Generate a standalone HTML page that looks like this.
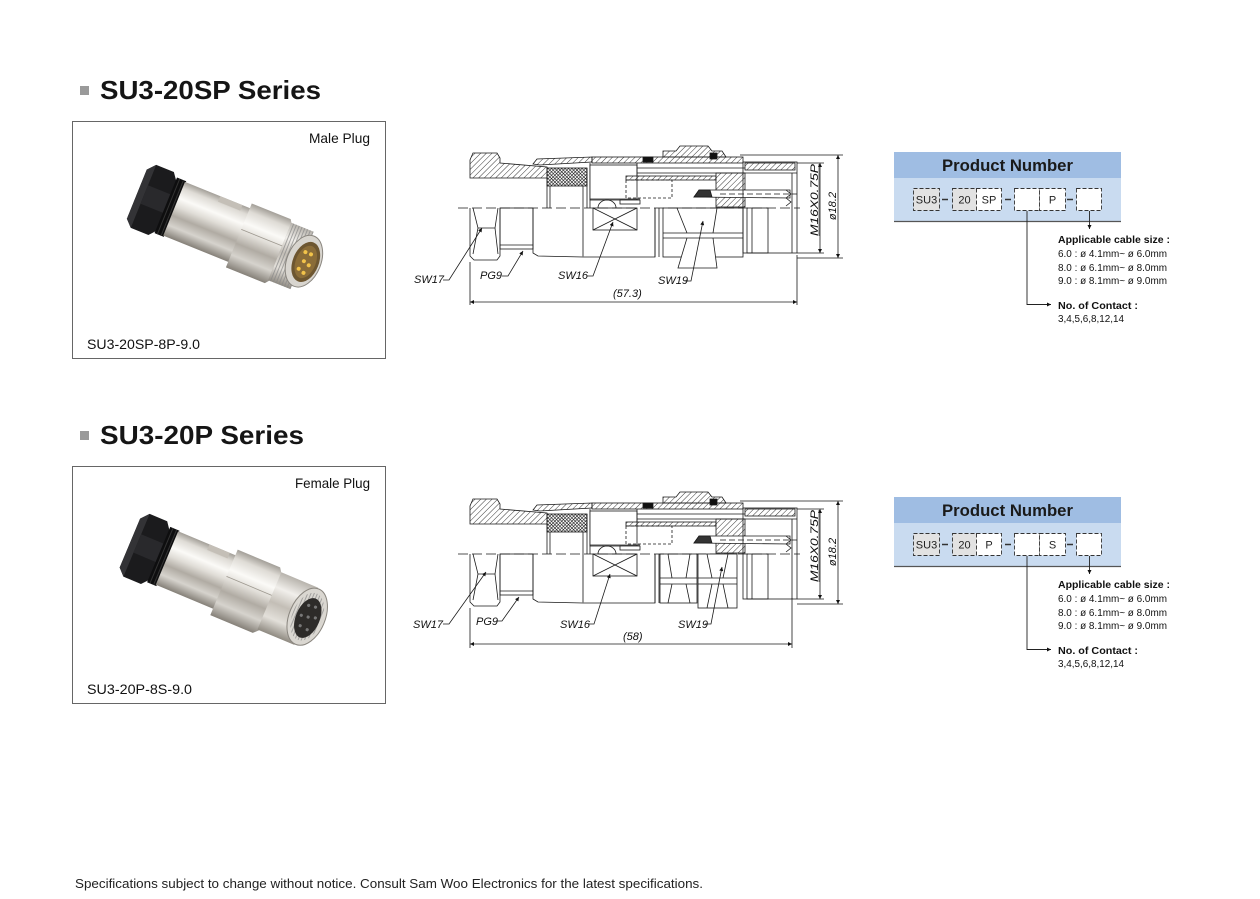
<!DOCTYPE html>
<html><head><meta charset="utf-8">
<style>
html,body{margin:0;padding:0;background:#fff;}
body{width:1260px;height:899px;overflow:hidden;position:relative;}
svg{position:absolute;left:0;top:0;}
text{font-family:"Liberation Sans",Arial,sans-serif;}
.it{font-style:italic;font-size:11px;fill:#111;}
</style></head><body>
<svg width="1260" height="899" viewBox="0 0 1260 899" xmlns="http://www.w3.org/2000/svg">
<defs>
 <pattern id="hat" width="4" height="4" patternUnits="userSpaceOnUse" patternTransform="rotate(45)"><line x1="0" y1="0" x2="0" y2="4" stroke="#222" stroke-width="0.9"/></pattern>
 <pattern id="xh" width="2.4" height="2.4" patternUnits="userSpaceOnUse" patternTransform="rotate(45)"><rect width="2.4" height="2.4" fill="#fff"/><path d="M0 0V2.4M0 0H2.4" stroke="#111" stroke-width="1.1"/></pattern>
 <marker id="ar" viewBox="0 0 10 10" refX="10" refY="5" markerUnits="userSpaceOnUse" markerWidth="7" markerHeight="4" orient="auto-start-reverse"><path d="M0,0 L10,5 L0,10 Z" fill="#111"/></marker>
 <linearGradient id="sv" x1="0" y1="0" x2="0" y2="1">
  <stop offset="0" stop-color="#a39f98"/><stop offset="0.12" stop-color="#dedbd5"/><stop offset="0.3" stop-color="#fbfaf7"/><stop offset="0.45" stop-color="#e0ddd7"/><stop offset="0.62" stop-color="#b0aba3"/><stop offset="0.8" stop-color="#d6d3cd"/><stop offset="1" stop-color="#858078"/>
 </linearGradient>
 <linearGradient id="sv2" x1="0" y1="0" x2="0" y2="1">
  <stop offset="0" stop-color="#b7b3ac"/><stop offset="0.25" stop-color="#f1efeb"/><stop offset="0.5" stop-color="#c3beb6"/><stop offset="0.75" stop-color="#e3e0da"/><stop offset="1" stop-color="#8f8a81"/>
 </linearGradient>
 <pattern id="thr" width="3" height="4" patternUnits="userSpaceOnUse"><rect width="3" height="4" fill="none"/><line x1="1.5" y1="0" x2="1.5" y2="4" stroke="#888" stroke-width="0.7"/></pattern>
</defs>

<!-- ============ TITLES ============ -->
<rect x="80" y="86" width="9" height="9" fill="#9a9a9a"/>
<text x="100" y="99" font-size="26" font-weight="bold" fill="#151515" textLength="221" lengthAdjust="spacingAndGlyphs">SU3-20SP Series</text>
<rect x="80" y="431" width="9" height="9" fill="#9a9a9a"/>
<text x="100" y="444" font-size="26" font-weight="bold" fill="#151515" textLength="204" lengthAdjust="spacingAndGlyphs">SU3-20P Series</text>

<!-- ============ PHOTO BOXES ============ -->
<rect x="72.5" y="121.5" width="313" height="237" fill="#fff" stroke="#666" stroke-width="1"/>
<text x="309" y="143" font-size="14" fill="#111" textLength="61" lengthAdjust="spacingAndGlyphs">Male Plug</text>
<text x="87" y="349" font-size="14" fill="#111" textLength="113" lengthAdjust="spacingAndGlyphs">SU3-20SP-8P-9.0</text>

<rect x="72.5" y="466.5" width="313" height="237" fill="#fff" stroke="#666" stroke-width="1"/>
<text x="295" y="488" font-size="14" fill="#111" textLength="75" lengthAdjust="spacingAndGlyphs">Female Plug</text>
<text x="87" y="694" font-size="14" fill="#111" textLength="105" lengthAdjust="spacingAndGlyphs">SU3-20P-8S-9.0</text>

<!-- Male photo -->
<g transform="translate(150,199) rotate(22)">
 <polygon points="-14,-26 -7,-34 12,-34 18,-26 18,27 12,34 -7,34 -14,27" fill="#1b1b1d"/>
 <polygon points="-14,-26 -7,-34 -7,34 -14,27" fill="#333336"/>
 <rect x="-7" y="-12" width="25" height="20" fill="#29292c"/>
 <rect x="17" y="-30" width="10" height="60" fill="#0e0e0f"/>
 <line x1="20" y1="-30" x2="20" y2="30" stroke="#333" stroke-width="1"/>
 <line x1="24" y1="-30" x2="24" y2="30" stroke="#333" stroke-width="1"/>
 <rect x="26" y="-29" width="74" height="58" fill="url(#sv)"/>
 <rect x="64" y="-29" width="24" height="6" fill="#c4bfb7"/>
 <polygon points="96,-34 138,-34 142,-28 142,30 138,35 96,35" fill="url(#sv)"/>
 <line x1="96" y1="-6" x2="142" y2="-6" stroke="#9d988f" stroke-width="0.8"/>
 <rect x="140" y="-31" width="24" height="62" fill="url(#sv2)"/>
 <rect x="140" y="-31" width="24" height="62" fill="url(#thr)"/>
 <ellipse cx="166" cy="0" rx="17" ry="27" fill="#d8d5cf" stroke="#8a867f" stroke-width="1"/>
 <ellipse cx="168" cy="0" rx="13" ry="21" fill="#6d5630"/>
 <ellipse cx="168" cy="0" rx="10" ry="17" fill="#8a6c38"/>
 <circle cx="164" cy="-9" r="2" fill="#f2c34a"/>
 <circle cx="170" cy="-9" r="2" fill="#f2c34a"/>
 <circle cx="166" cy="0" r="2" fill="#f2c34a"/>
 <circle cx="172" cy="2" r="2" fill="#f2c34a"/>
 <circle cx="164" cy="9" r="2" fill="#f2c34a"/>
 <circle cx="170" cy="11" r="2" fill="#f2c34a"/>
</g>

<!-- Female photo -->
<g transform="translate(143,548) rotate(22.7)">
 <polygon points="-14,-26 -7,-34 12,-34 18,-26 18,27 12,34 -7,34 -14,27" fill="#1b1b1d"/>
 <polygon points="-14,-26 -7,-34 -7,34 -14,27" fill="#333336"/>
 <rect x="-7" y="-12" width="25" height="20" fill="#29292c"/>
 <rect x="17" y="-30" width="10" height="60" fill="#0e0e0f"/>
 <line x1="20" y1="-30" x2="20" y2="30" stroke="#333" stroke-width="1"/>
 <line x1="24" y1="-30" x2="24" y2="30" stroke="#333" stroke-width="1"/>
 <rect x="26" y="-29" width="66" height="58" fill="url(#sv)"/>
 <rect x="60" y="-29" width="22" height="6" fill="#c4bfb7"/>
 <polygon points="88,-35 134,-35 139,-28 139,31 134,36 88,36" fill="url(#sv)"/>
 <line x1="88" y1="-6" x2="139" y2="-6" stroke="#9d988f" stroke-width="0.8"/>
 <rect x="137" y="-31" width="40" height="62" fill="url(#sv2)"/>
 <ellipse cx="178" cy="0" rx="18" ry="30" fill="#dad7d1" stroke="#8a867f" stroke-width="1"/>
 <ellipse cx="178" cy="0" rx="15" ry="25" fill="url(#thr)"/>
 <ellipse cx="179" cy="1" rx="12" ry="21" fill="#2d2b29"/>
 <circle cx="175" cy="-11" r="1.6" fill="#777"/>
 <circle cx="182" cy="-12" r="1.6" fill="#777"/>
 <circle cx="186" cy="-2" r="1.6" fill="#777"/>
 <circle cx="179" cy="0" r="1.6" fill="#777"/>
 <circle cx="172" cy="1" r="1.6" fill="#777"/>
 <circle cx="175" cy="11" r="1.6" fill="#777"/>
 <circle cx="183" cy="12" r="1.6" fill="#777"/>
</g>

<!-- ============ TECH DRAWING CORE ============ -->
<g id="core" fill="none" stroke="#1a1a1a" stroke-width="0.8">
 <line x1="458" y1="208" x2="800" y2="208" stroke-dasharray="10 4"/>
 <path d="M470,178 V160 L473,153 H497 L500,158 V163 L547,167 V178 Z" fill="url(#hat)"/>
 <path d="M533,164 L537,159 L592,157 V162 L540,165 Z" fill="url(#hat)"/>
 <rect x="592" y="157" width="151" height="6" fill="url(#hat)"/>
 <polygon points="663,157 663,151 676,151 680,146 708,146 712,151 722,151 726,157" fill="url(#hat)"/>
 <rect x="643" y="157" width="10" height="5" fill="#111"/>
 <rect x="710" y="153" width="7" height="6" fill="#111"/>
 <rect x="547" y="168" width="40" height="18" fill="url(#xh)"/>
 <path d="M547,167 V208 M550,186 V208 M583,186 V208 M587,168 V208 M590,163 V208"/>
 <rect x="590" y="165" width="47" height="35" fill="#fff"/>
 <path d="M598,208 A9,8 0 0 1 616,208"/>
 <rect x="620" y="200" width="20" height="4" fill="#fff"/>
 <line x1="590" y1="199" x2="640" y2="199"/>
 <rect x="626" y="180" width="46" height="18" stroke-dasharray="3 2"/>
 <rect x="626" y="176" width="90" height="4" fill="url(#hat)"/>
 <path d="M637,168 H745 M637,173 H745 M637,163 V176"/>
 <rect x="716" y="173" width="29" height="34" fill="url(#hat)"/>
 <path d="M694,197 L699,190 H790 V198 Z" fill="#fff"/>
 <path d="M699,190 L710,190 L712,197 L694,197 Z" fill="#333"/>
 <path d="M720,194 H797" stroke-dasharray="6 3"/>
 <path d="M786,190 l5,4 l-5,4 M786,198 l5,4 l-5,4"/>
 <rect x="743" y="162" width="54" height="91"/>
 <rect x="745" y="163" width="50" height="7" fill="url(#hat)"/>
 <path d="M743,173 H797 M792,173 V253"/>
 <rect x="747" y="208" width="21" height="45"/>
 <line x1="752" y1="208" x2="752" y2="253"/>
 <path d="M470,208 V256 L474,260 H497 L500,256 V208"/>
 <path d="M473,208 L478,228 L473,254 M498,208 L495,228 L498,254 M478,228 H495"/>
 <rect x="500" y="208" width="33" height="41"/>
 <line x1="500" y1="245" x2="533" y2="245"/>
 <path d="M533,208 V253 L538,256 L583,257 H655 V208"/>
 <line x1="583" y1="208" x2="583" y2="257" stroke="#777" stroke-width="1.4"/>
 <rect x="593" y="208" width="44" height="22"/>
 <path d="M593,208 L637,230 M637,208 L593,230"/>
 <path d="M655,208 V257 M659,208 V257"/>
 <path d="M740,155 H843 M797,258 H843 M797,163 H824 M797,253 H824"/>
 <line x1="820" y1="163" x2="820" y2="253" marker-start="url(#ar)" marker-end="url(#ar)"/>
 <line x1="838" y1="155" x2="838" y2="258" marker-start="url(#ar)" marker-end="url(#ar)"/>
 <text class="it" transform="translate(818,200) rotate(-90)" text-anchor="middle" stroke="none" textLength="72" lengthAdjust="spacingAndGlyphs">M16X0.75P</text>
 <line x1="819" y1="164" x2="819" y2="236" stroke-width="0.6"/>
 <text class="it" transform="translate(836,206) rotate(-90)" text-anchor="middle" stroke="none">ø18.2</text>
</g>
<use href="#core" transform="translate(0,346)"/>

<g fill="none" stroke="#1a1a1a" stroke-width="0.8">
 <rect x="663" y="208" width="80" height="49"/>
 <path d="M677,208 L687,233 M717,208 L713,233 M663,233 H743 M663,238 H743 M687,238 L678,268 H717 L713,238" fill="#fff"/>
</g>
<g fill="none" stroke="#1a1a1a" stroke-width="0.8" transform="translate(0,346)">
 <rect x="660" y="208" width="37" height="49"/>
 <path d="M668,208 L672,232 M690,208 L686,232 M660,232 H697 M660,238 H697 M672,238 L668,257 M686,238 L690,257"/>
 <rect x="698" y="208" width="39" height="54" fill="#fff"/>
 <path d="M707,208 L712,232 M728,208 L723,232 M698,232 H737 M698,238 H737 M712,238 L707,262 M723,238 L728,262"/>
</g>

<g fill="none" stroke="#1a1a1a" stroke-width="0.8">
 <path d="M470,262 V305 M797,255 V305"/>
 <line x1="470" y1="302" x2="797" y2="302" marker-start="url(#ar)" marker-end="url(#ar)"/>
 <path d="M443,280 H449 L482,228" marker-end="url(#ar)"/>
 <path d="M502,276 H508 L523,251" marker-end="url(#ar)"/>
 <path d="M587,276 H593 L613,222" marker-end="url(#ar)"/>
 <path d="M685,281 H691 L703,221" marker-end="url(#ar)"/>
</g>
<text class="it" x="414" y="283">SW17</text>
<text class="it" x="480" y="279">PG9</text>
<text class="it" x="558" y="279">SW16</text>
<text class="it" x="658" y="284">SW19</text>
<text class="it" x="613" y="297">(57.3)</text>

<g fill="none" stroke="#1a1a1a" stroke-width="0.8">
 <path d="M470,608 V648 M792,598 V648"/>
 <line x1="470" y1="644" x2="792" y2="644" marker-start="url(#ar)" marker-end="url(#ar)"/>
 <path d="M443,624 H449 L486,572" marker-end="url(#ar)"/>
 <path d="M496,621 H502 L519,597" marker-end="url(#ar)"/>
 <path d="M588,624 H594 L610,574" marker-end="url(#ar)"/>
 <path d="M705,624 H711 L722,567" marker-end="url(#ar)"/>
</g>
<text class="it" x="413" y="628">SW17</text>
<text class="it" x="476" y="625">PG9</text>
<text class="it" x="560" y="628">SW16</text>
<text class="it" x="678" y="628">SW19</text>
<text class="it" x="623" y="640">(58)</text>

<!-- ============ PRODUCT NUMBER ============ -->
<g>
 <rect x="894" y="152" width="227" height="26" fill="#9fbde3"/>
 <rect x="894" y="178" width="227" height="43" fill="#c9dbf0"/>
 <line x1="894" y1="221.5" x2="1121" y2="221.5" stroke="#555" stroke-width="1.2"/>
 <text x="942" y="171" font-size="17" font-weight="bold" fill="#1a1a1a" textLength="131" lengthAdjust="spacingAndGlyphs">Product Number</text>
 <g stroke="#333" stroke-width="0.9" stroke-dasharray="4 2">
  <rect x="913.5" y="188.5" width="26" height="22" fill="#e2e2e2"/>
  <rect x="952.5" y="188.5" width="24" height="22" fill="#e2e2e2"/>
  <rect x="976.5" y="188.5" width="25" height="22" fill="#fff"/>
  <rect x="1014.5" y="188.5" width="25" height="22" fill="#fff"/>
  <rect x="1039.5" y="188.5" width="26" height="22" fill="#fff"/>
  <rect x="1076.5" y="188.5" width="25" height="22" fill="#fff"/>
 </g>
 <g stroke="#333" stroke-width="1.5">
  <line x1="942" y1="199.5" x2="948" y2="199.5"/>
  <line x1="1005" y1="199.5" x2="1011" y2="199.5"/>
  <line x1="1067" y1="199.5" x2="1073" y2="199.5"/>
 </g>
 <g font-size="11" fill="#222" text-anchor="middle">
  <text x="926.5" y="203.5">SU3</text>
  <text x="964.5" y="203.5">20</text>
  <text x="989" y="203.5">SP</text>
  <text x="1052.5" y="203.5">P</text>
 </g>
 <g fill="none" stroke="#222" stroke-width="0.9">
  <path d="M1027,211 V304.5 H1051" marker-end="url(#ar)"/>
  <path d="M1089.5,211 V229" marker-end="url(#ar)"/>
 </g>
 <g fill="#111">
  <text x="1058" y="243" font-size="10.5" font-weight="bold" textLength="112" lengthAdjust="spacingAndGlyphs">Applicable cable size :</text>
  <text x="1058" y="257" font-size="10" textLength="109" lengthAdjust="spacingAndGlyphs">6.0 :  ø 4.1mm~ ø 6.0mm</text>
  <text x="1058" y="271" font-size="10" textLength="109" lengthAdjust="spacingAndGlyphs">8.0 :  ø 6.1mm~ ø 8.0mm</text>
  <text x="1058" y="284" font-size="10" textLength="109" lengthAdjust="spacingAndGlyphs">9.0 :  ø 8.1mm~ ø 9.0mm</text>
  <text x="1058" y="309" font-size="10.5" font-weight="bold" textLength="80" lengthAdjust="spacingAndGlyphs">No. of Contact :</text>
  <text x="1058" y="322" font-size="10" textLength="66" lengthAdjust="spacingAndGlyphs">3,4,5,6,8,12,14</text>
 </g>
</g>

<g transform="translate(0,345)">
 <rect x="894" y="152" width="227" height="26" fill="#9fbde3"/>
 <rect x="894" y="178" width="227" height="43" fill="#c9dbf0"/>
 <line x1="894" y1="221.5" x2="1121" y2="221.5" stroke="#555" stroke-width="1.2"/>
 <text x="942" y="171" font-size="17" font-weight="bold" fill="#1a1a1a" textLength="131" lengthAdjust="spacingAndGlyphs">Product Number</text>
 <g stroke="#333" stroke-width="0.9" stroke-dasharray="4 2">
  <rect x="913.5" y="188.5" width="26" height="22" fill="#e2e2e2"/>
  <rect x="952.5" y="188.5" width="24" height="22" fill="#e2e2e2"/>
  <rect x="976.5" y="188.5" width="25" height="22" fill="#fff"/>
  <rect x="1014.5" y="188.5" width="25" height="22" fill="#fff"/>
  <rect x="1039.5" y="188.5" width="26" height="22" fill="#fff"/>
  <rect x="1076.5" y="188.5" width="25" height="22" fill="#fff"/>
 </g>
 <g stroke="#333" stroke-width="1.5">
  <line x1="942" y1="199.5" x2="948" y2="199.5"/>
  <line x1="1005" y1="199.5" x2="1011" y2="199.5"/>
  <line x1="1067" y1="199.5" x2="1073" y2="199.5"/>
 </g>
 <g font-size="11" fill="#222" text-anchor="middle">
  <text x="926.5" y="203.5">SU3</text>
  <text x="964.5" y="203.5">20</text>
  <text x="989" y="203.5">P</text>
  <text x="1052.5" y="203.5">S</text>
 </g>
 <g fill="none" stroke="#222" stroke-width="0.9">
  <path d="M1027,211 V304.5 H1051" marker-end="url(#ar)"/>
  <path d="M1089.5,211 V229" marker-end="url(#ar)"/>
 </g>
 <g fill="#111">
  <text x="1058" y="243" font-size="10.5" font-weight="bold" textLength="112" lengthAdjust="spacingAndGlyphs">Applicable cable size :</text>
  <text x="1058" y="257" font-size="10" textLength="109" lengthAdjust="spacingAndGlyphs">6.0 :  ø 4.1mm~ ø 6.0mm</text>
  <text x="1058" y="271" font-size="10" textLength="109" lengthAdjust="spacingAndGlyphs">8.0 :  ø 6.1mm~ ø 8.0mm</text>
  <text x="1058" y="284" font-size="10" textLength="109" lengthAdjust="spacingAndGlyphs">9.0 :  ø 8.1mm~ ø 9.0mm</text>
  <text x="1058" y="309" font-size="10.5" font-weight="bold" textLength="80" lengthAdjust="spacingAndGlyphs">No. of Contact :</text>
  <text x="1058" y="322" font-size="10" textLength="66" lengthAdjust="spacingAndGlyphs">3,4,5,6,8,12,14</text>
 </g>
</g>

<!-- ============ FOOTER ============ -->
<text x="75" y="888" font-size="13" fill="#222" textLength="628" lengthAdjust="spacingAndGlyphs">Specifications subject to change without notice. Consult Sam Woo Electronics for the latest specifications.</text>
</svg>
</body></html>
